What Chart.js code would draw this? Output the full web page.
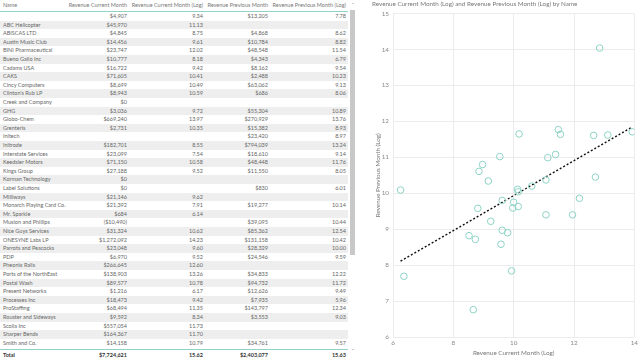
<!DOCTYPE html>
<html>
<head>
<meta charset="utf-8">
<script src="https://cdn.jsdelivr.net/npm/chart.js@4/dist/chart.umd.min.js"></script>
<style>
  html, body { margin:0; padding:0; background:#fff; }
  body { width:640px; height:359px; overflow:hidden; position:relative; font-family:'Segoe UI', Lato, 'Open Sans', sans-serif; }
  #tbl { position:absolute; left:0; top:0; width:348px; height:359px; font-size:5.5px; color:#666; }
  .row { position:absolute; left:0; width:348px; height:8.6px; line-height:8.6px; white-space:nowrap; }
  .row.alt { background:#eeeeee; }
  .row span { position:absolute; top:0; }
  .c0 { left:3px; }
  .c1 { right:221px; }
  .c2 { right:145px; }
  .c3 { right:80px; }
  .c4 { right:2px; }
  #head { top:0; height:11px; line-height:11px; color:#777; border-bottom:1px solid #8fd3c7; }
  #total { top:349px; height:10px; line-height:10px; border-top:1px solid #8fd3c7; font-weight:bold; color:#333; background:#fff; }
  #sb { position:absolute; left:350px; top:10px; width:5px; height:245px; background:#c8c8c8; }
  .arr { position:absolute; left:350px; width:6px; font-size:6px; color:#999; text-align:center; }
  #wrap { position:absolute; left:372px; top:0; width:268px; height:359px; }
</style>
</head>
<body>
<div id="tbl"></div>
<div id="sb"></div>
<div class="arr" style="top:1px">&#710;</div>
<div class="arr" style="top:347px">&#711;</div>
<div id="wrap"><canvas id="scatter"></canvas></div>
<script>
/* ── Table data ── */
const names      = ['', 'ABC Helicopter', 'ABISCAS LTD', 'Austin Music Club', 'BINI Pharmaceutical', 'Bueno Gallo Inc', 'Cadams USA', 'CAKS', 'Cincy Computers', "Clinton's Rub LP", 'Creek and Company', 'GHG', 'Globo-Chem', 'Grenteris', 'Initech', 'Initrode', 'Interstate Services', 'Keedsler Motors', 'Kings Group', 'Korman Technology', 'Label Solutions', 'Milliways', 'Monarch Playing Card Co.', 'Mr. Sparkle', 'Musion and Phillips', 'Nice Guys Services', 'ONESYNE Labs LP', 'Parrots and Peacocks', 'PDP', 'Pheonix Rails', 'Ports of the NorthEast', 'Postal Wash', 'Present Networks', 'Processes Inc', 'ProStaffing', 'Rouster and Sideways', 'Scoila Inc', 'Sharper Bends', 'Smith and Co.'];
const revCur     = [4907, 45970, 4845, 14456, 23747, 10777, 16722, 71605, 8699, 8943, 0, 3036, 669240, 2731, null, 182701, 23099, 71150, 27188, 0, 0, 21146, 21392, 684, -10490, 31324, 1272092, 23048, 6970, 266645, 138903, 89577, 1216, 18473, 68494, 9592, 557054, 164367, 14158];
const revCurLog  = [9.34, 11.13, 8.75, 9.61, 12.02, 8.18, 9.42, 10.41, 10.49, 10.59, null, 9.72, 13.97, 10.35, null, 8.55, 7.54, 10.58, 9.52, null, null, 9.62, 7.91, 6.14, null, 10.62, 14.23, 9.60, 9.52, 12.60, 13.26, 10.78, 6.17, 9.42, 11.35, 8.34, 11.73, 11.70, 10.79];
const revPrev    = [13205, null, 4868, 10784, 48548, 4343, 8162, 2488, 63062, 686, null, 55304, 270929, 15382, 23420, 794039, 18610, 48448, 11550, null, 830, null, 19277, null, 39095, 85362, 131158, 28329, 24546, null, 34833, 94732, 12626, 7935, 143797, 3553, null, null, 34761];
const revPrevLog = [7.78, null, 8.62, 8.82, 11.54, 6.79, 9.54, 10.23, 9.13, 8.06, null, 10.89, 13.76, 8.93, 8.97, 13.24, 9.14, 11.76, 8.05, null, 6.01, null, 10.14, null, 10.44, 12.54, 10.42, 10.00, 9.59, null, 12.22, 11.72, 9.49, 5.96, 12.34, 9.03, null, null, 9.57];
const headers    = ['Name', 'Revenue Current Month', 'Revenue Current Month (Log)', 'Revenue Previous Month', 'Revenue Previous Month (Log)'];
const totals     = ['Total', 7724621, 15.62, 2403077, 15.63];

/* ── Scatter data ── */
const curLog  = [6.25, 6.36, 8.66, 8.52, 8.73, 8.81, 9.24, 9.62, 9.80, 9.58, 9.93, 9.62, 10.00, 9.97, 10.15, 10.13, 10.15, 10.60, 11.07, 11.07, 11.95, 12.18, 12.71, 9.16, 8.85, 8.97, 9.54, 10.18, 11.13, 11.39, 11.48, 11.55, 12.65, 13.12, 13.93, 12.85];
const prevLog = [10.09, 7.69, 6.76, 8.82, 8.72, 9.58, 9.22, 8.97, 8.90, 8.58, 7.84, 9.80, 9.75, 9.59, 9.63, 10.11, 10.04, 10.20, 10.37, 9.40, 9.40, 9.86, 10.45, 10.34, 10.61, 10.80, 11.02, 11.65, 10.99, 11.08, 11.77, 11.64, 11.61, 11.62, 11.71, 14.04];
const trendX  = [6.25, 13.92];
const trendY  = [8.11, 11.84];
const xTicks  = [6, 8, 10, 12, 14];
const yTicks  = [6, 7, 8, 9, 10, 11, 12, 13, 14, 15];

const money = v => v == null ? '' : (v < 0 ? '($' + Math.abs(v).toLocaleString('en-US') + ')' : '$' + v.toLocaleString('en-US'));
const dec   = v => v == null ? '' : v.toFixed(2);

/* ── Build table ── */
const tbl = document.getElementById('tbl');
function addRow(cells, id, cls, top) {
  const r = document.createElement('div');
  r.className = 'row' + (cls ? ' ' + cls : '');
  if (id) r.id = id;
  if (top != null) r.style.top = top + 'px';
  cells.forEach((c, i) => {
    const s = document.createElement('span');
    s.className = 'c' + i;
    s.textContent = c;
    r.appendChild(s);
  });
  tbl.appendChild(r);
}
addRow(headers, 'head');
names.forEach((n, i) => {
  addRow([n, money(revCur[i]), dec(revCurLog[i]), money(revPrev[i]), dec(revPrevLog[i])], null, i % 2 ? 'alt' : '', 12 + i * 8.6);
});
addRow([totals[0], money(totals[1]), dec(totals[2]), money(totals[3]), dec(totals[4])], 'total');

/* ── Scatter chart ── */
const cv = document.getElementById('scatter');
cv.width = 268; cv.height = 359;
const grey = '#777';
const fnt = "'Segoe UI', Lato, 'Open Sans', sans-serif";
new Chart(cv, {
  type: 'scatter',
  data: {
    datasets: [
      {
        label: 'Name',
        data: curLog.map((x, i) => ({x, y: prevLog[i]})),
        pointRadius: 3.3,
        pointHoverRadius: 3.3,
        borderColor: '#8dd3c6',
        backgroundColor: 'rgba(0,0,0,0)',
        borderWidth: 1,
      },
      {
        type: 'line',
        label: 'Trend',
        data: trendX.map((x, i) => ({x, y: trendY[i]})),
        borderColor: '#111',
        borderWidth: 1.4,
        borderDash: [2, 2],
        pointRadius: 0,
        fill: false,
      }
    ]
  },
  options: {
    responsive: false,
    animation: false,
    layout: { padding: { left: 0, right: 5, top: 0, bottom: 0 } },
    plugins: {
      legend: { display: false },
      tooltip: { enabled: false },
      title: {
        display: true,
        text: 'Revenue Current Month (Log) and Revenue Previous Month (Log) by Name',
        align: 'start',
        color: grey,
        font: { family: fnt, size: 6.3, weight: 'normal' },
        padding: { top: 0, bottom: 6 },
      }
    },
    scales: {
      x: {
        type: 'linear', min: 6, max: 14,
        afterBuildTicks: s => { s.ticks = xTicks.map(v => ({value: v})); },
        afterFit: s => { s.height = 22; },
        ticks: { color: '#888', padding: 2, font: { size: 6.3, family: fnt } },
        grid: { color: '#ececec', drawTicks: false },
        border: { display: false },
        title: { display: true, text: 'Revenue Current Month (Log)', color: grey, padding: { top: 0, bottom: 2 }, font: { size: 6.3, family: fnt } },
      },
      y: {
        type: 'linear', min: 6, max: 15,
        afterBuildTicks: s => { s.ticks = yTicks.map(v => ({value: v})); },
        afterFit: s => { s.width = 21; },
        ticks: { color: '#888', padding: 4, font: { size: 6.3, family: fnt } },
        grid: { color: '#ececec', drawTicks: false },
        border: { display: false },
        title: { display: true, text: 'Revenue Previous Month (Log)', color: grey, padding: { top: 2.4, bottom: 0 }, font: { size: 6.3, family: fnt } },
      }
    }
  }
});
</script>
</body>
</html>
